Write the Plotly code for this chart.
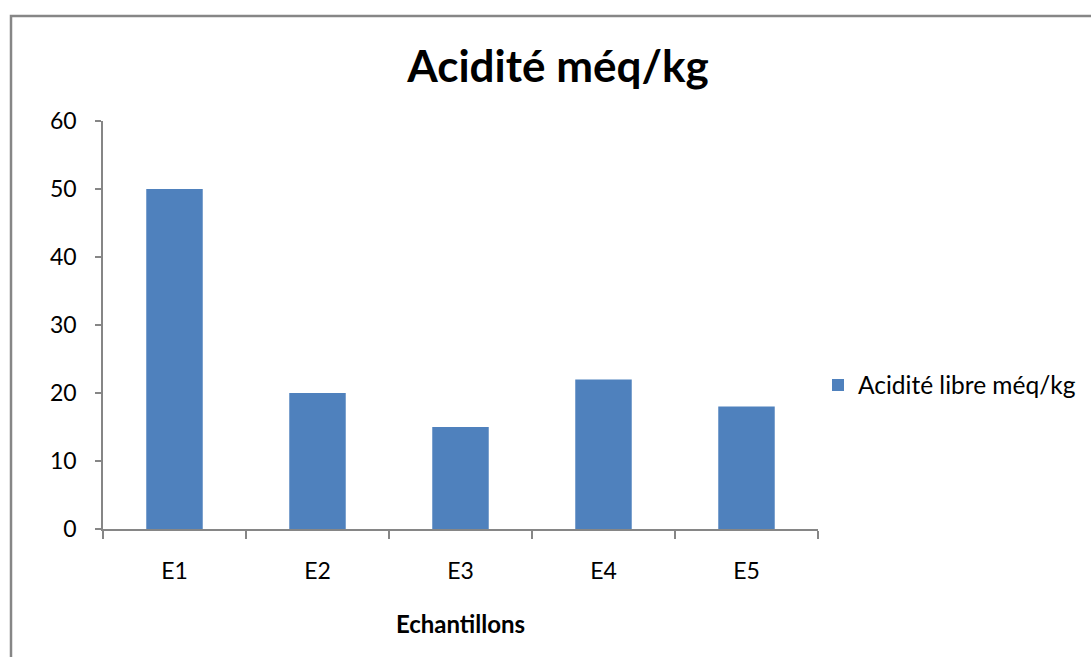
import plotly.graph_objects as go

categories = ["E1", "E2", "E3", "E4", "E5"]
values = [50, 20, 15, 22, 18]
series_name = "Acidité libre méq/kg"
title_text = "Acidité méq/kg"
x_title = "Echantillons"
y_ticks = [0, 10, 20, 30, 40, 50, 60]

W, H = 1091, 657
L, R, T, B = 103, 273, 121, 128
pw = W - L - R
ph = H - T - B

FONT = "Lato"
AXIS_COLOR = "#868686"

fig = go.Figure()
fig.add_trace(go.Bar(
    x=categories, y=values, name=series_name,
    marker=dict(color="#4F81BD", line=dict(width=0)),
    showlegend=True,
))

def px_x(p):
    return (p - L) / pw

def px_y(p):
    return (H - B - p) / ph

fig.update_layout(
    width=W, height=H,
    margin=dict(l=L, r=R, t=T, b=B, autoexpand=False),
    paper_bgcolor="white", plot_bgcolor="white",
    font=dict(family=FONT, color="black", size=22),
    bargap=0.605,
    title=dict(text="<b>" + title_text + "</b>", x=558 / W, xanchor="center",
               xref="container", y=1 - 67 / H, yanchor="middle", yref="container",
               font=dict(family=FONT, size=44, color="black")),
    showlegend=True,
    legend=dict(x=px_x(818), xanchor="left", y=px_y(385), yanchor="middle",
                font=dict(family=FONT, size=24.5, color="black"),
                itemwidth=30, bgcolor="rgba(0,0,0,0)"),
    xaxis=dict(
        type="category", showline=True, linecolor=AXIS_COLOR, linewidth=1.5,
        ticks="outside", tickson="boundaries", ticklen=8, tickcolor=AXIS_COLOR,
        tickwidth=1.5, showgrid=False, zeroline=False,
        tickfont=dict(family=FONT, size=23, color="black"),
        ticklabelstandoff=21,
        title=dict(text="<b>" + x_title + "</b>", standoff=33,
                   font=dict(family=FONT, size=24, color="black")),
    ),
    yaxis=dict(
        range=[0, 60], tickvals=y_ticks, showline=True, linecolor=AXIS_COLOR,
        linewidth=1.5, ticks="outside", ticklen=6, tickcolor=AXIS_COLOR,
        tickwidth=1.5, showgrid=False, zeroline=False,
        tickfont=dict(family=FONT, size=23, color="black"),
        ticklabelstandoff=14,
    ),
    shapes=[dict(type="rect", xref="paper", yref="paper",
                 x0=px_x(11), x1=px_x(W + 20), y0=px_y(H + 20), y1=px_y(16),
                 line=dict(color=AXIS_COLOR, width=2.5), fillcolor="rgba(0,0,0,0)",
                 layer="below")],
)

fig.write_html("out.html")
